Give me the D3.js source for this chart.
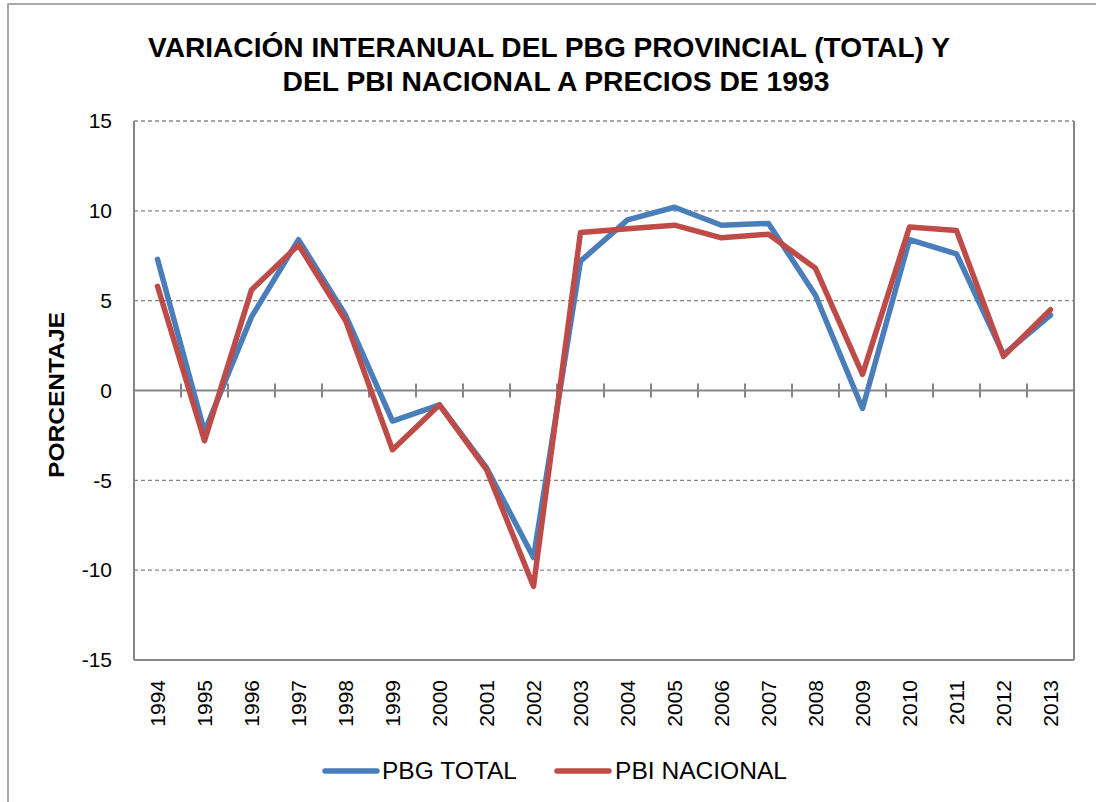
<!DOCTYPE html>
<html>
<head>
<meta charset="utf-8">
<script src="https://cdn.jsdelivr.net/npm/d3@7"></script>
<style>
  html, body { margin: 0; padding: 0; background: #fff; }
  svg { display: block; font-family: "Liberation Sans", Arial, sans-serif; }
</style>
</head>
<body>
<svg id="chart" width="1096" height="802"></svg>
<script>
const years = ["1994","1995","1996","1997","1998","1999","2000","2001","2002","2003",
               "2004","2005","2006","2007","2008","2009","2010","2011","2012","2013"];
const pbgTotal = [7.3, -2.3, 4.1, 8.4, 4.2, -1.7, -0.8, -4.3, -9.3, 7.2,
                  9.5, 10.2, 9.2, 9.3, 5.3, -1.0, 8.4, 7.6, 2.0, 4.2];
const pbiNacional = [5.8, -2.8, 5.6, 8.1, 3.9, -3.3, -0.8, -4.4, -10.9, 8.8,
                     9.0, 9.2, 8.5, 8.7, 6.8, 0.9, 9.1, 8.9, 1.9, 4.5];
const yTicks = [-15, -10, -5, 0, 5, 10, 15];
const seriesNames = ["PBG TOTAL", "PBI NACIONAL"];
const seriesColors = ["#4a7ebb", "#be4b48"];
const titleLines = ["VARIACIÓN INTERANUAL DEL PBG PROVINCIAL (TOTAL) Y",
                    "DEL PBI NACIONAL A PRECIOS DE 1993"];
const yTitle = "PORCENTAJE";

const svg = d3.select("#chart");
const plot = { left: 134, right: 1074, top: 121, bottom: 660 };

// outer chart border
svg.append("rect").attr("x", 8).attr("y", 4).attr("width", 1100).attr("height", 810)
  .attr("fill", "none").attr("stroke", "#8c8c8c").attr("stroke-width", 1.5);

const x = d3.scaleBand().domain(years).range([plot.left, plot.right]).padding(0);
const y = d3.scaleLinear().domain([-15, 15]).range([plot.bottom, plot.top]);

// title
svg.append("text").attr("x", 549).attr("y", 57).attr("text-anchor", "middle")
  .attr("font-weight", "bold").attr("font-size", 28).attr("fill", "#000")
  .attr("textLength", 802).attr("lengthAdjust", "spacingAndGlyphs").text(titleLines[0]);
svg.append("text").attr("x", 556).attr("y", 91).attr("text-anchor", "middle")
  .attr("font-weight", "bold").attr("font-size", 28).attr("fill", "#000")
  .attr("textLength", 547).attr("lengthAdjust", "spacingAndGlyphs").text(titleLines[1]);

// gridlines
svg.append("g").selectAll("line").data(yTicks.filter(d => d !== 0 && d !== -15)).join("line")
  .attr("x1", plot.left).attr("x2", plot.right)
  .attr("y1", d => y(d)).attr("y2", d => y(d))
  .attr("stroke", "#868686").attr("stroke-width", 1.3).attr("stroke-dasharray", "4,3");

// plot border (left axis, right, bottom)
svg.append("line").attr("x1", plot.left).attr("x2", plot.left).attr("y1", plot.top).attr("y2", plot.bottom)
  .attr("stroke", "#868686").attr("stroke-width", 2);
svg.append("line").attr("x1", plot.right).attr("x2", plot.right).attr("y1", plot.top).attr("y2", plot.bottom)
  .attr("stroke", "#868686").attr("stroke-width", 2);
svg.append("line").attr("x1", plot.left).attr("x2", plot.right).attr("y1", plot.bottom).attr("y2", plot.bottom)
  .attr("stroke", "#868686").attr("stroke-width", 2);

// y axis labels
const yAxis = d3.axisLeft(y).tickValues(yTicks).tickSize(0).tickPadding(22)
  .tickFormat(d => String(d));
const yg = svg.append("g").attr("transform", `translate(${plot.left},0)`).call(yAxis);
yg.select(".domain").remove();
yg.selectAll("text").attr("font-size", 21).attr("fill", "#000")
  .attr("font-family", "Liberation Sans, Arial, sans-serif");

// zero axis with crossing ticks
svg.append("line").attr("x1", plot.left).attr("x2", plot.right).attr("y1", y(0)).attr("y2", y(0))
  .attr("stroke", "#868686").attr("stroke-width", 2);
svg.append("g").selectAll("line").data(years.slice(1)).join("line")
  .attr("x1", d => x(d)).attr("x2", d => x(d))
  .attr("y1", y(0) - 7).attr("y2", y(0) + 7)
  .attr("stroke", "#868686").attr("stroke-width", 2);

// x labels (rotated, at bottom)
svg.append("g").selectAll("text").data(years).join("text")
  .attr("transform", d => `translate(${x(d) + x.bandwidth() / 2},680) rotate(-90)`)
  .attr("text-anchor", "end").attr("dominant-baseline", "central")
  .attr("font-size", 21).attr("fill", "#000").text(d => d);

// y title
svg.append("text").attr("transform", "translate(56,395) rotate(-90)")
  .attr("text-anchor", "middle").attr("dominant-baseline", "central")
  .attr("font-weight", "bold").attr("font-size", 22).attr("fill", "#000")
  .attr("textLength", 166).attr("lengthAdjust", "spacingAndGlyphs").text(yTitle);

// lines
const line = d3.line().x((d, i) => x(years[i]) + x.bandwidth() / 2).y(d => y(d));
[pbgTotal, pbiNacional].forEach((s, i) => {
  svg.append("path").datum(s).attr("d", line).attr("fill", "none")
    .attr("stroke", seriesColors[i]).attr("stroke-width", 5.5)
    .attr("stroke-linejoin", "round").attr("stroke-linecap", "round");
});

// legend
const legendItems = [{ x: 325, tx: 382, w: 135 }, { x: 557, tx: 615, w: 172 }];
legendItems.forEach((it, i) => {
  svg.append("line").attr("x1", it.x).attr("x2", it.x + 52).attr("y1", 771).attr("y2", 771)
    .attr("stroke", seriesColors[i]).attr("stroke-width", 5.5).attr("stroke-linecap", "round");
  svg.append("text").attr("x", it.tx).attr("y", 771).attr("dominant-baseline", "central")
    .attr("font-size", 23).attr("fill", "#000")
    .attr("textLength", it.w).attr("lengthAdjust", "spacingAndGlyphs").text(seriesNames[i]);
});
</script>
</body>
</html>
